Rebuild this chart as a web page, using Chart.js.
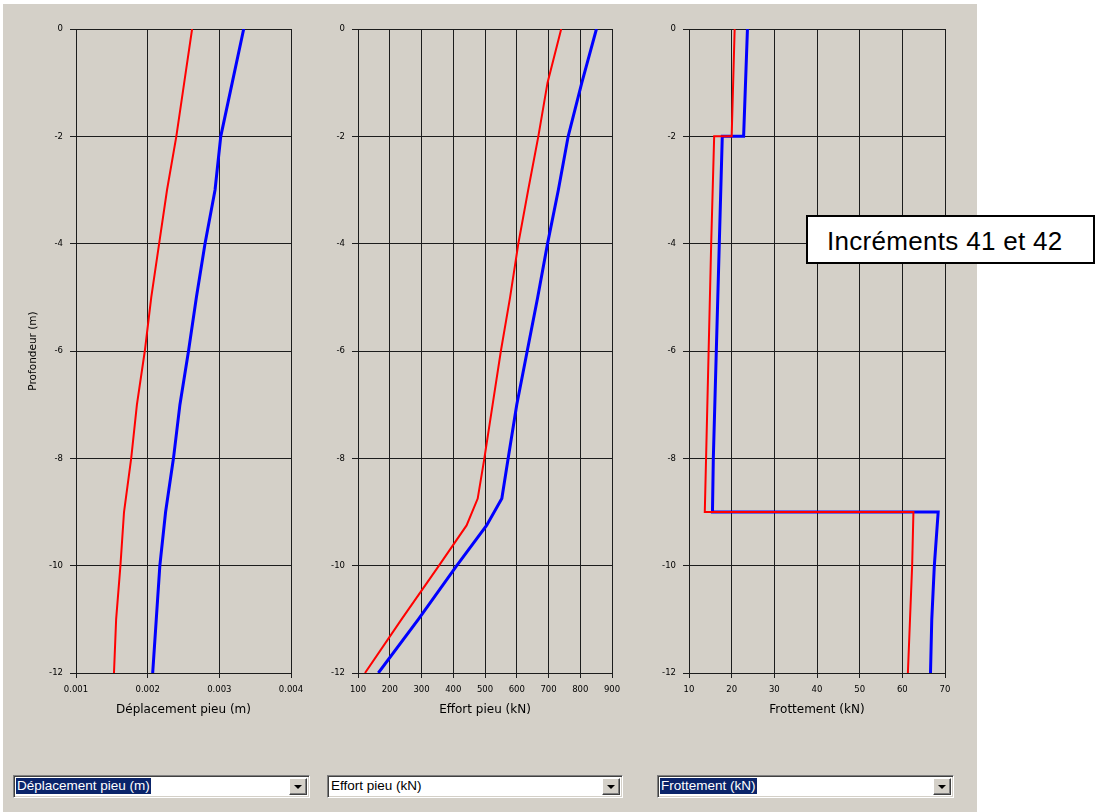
<!DOCTYPE html>
<html lang="fr">
<head>
<meta charset="UTF-8">
<title>Incréments 41 et 42</title>
<script src="https://cdn.jsdelivr.net/npm/chart.js@4.4.0/dist/chart.umd.min.js"></script>
<style>
    body {
        margin: 0;
        width: 1095px;
        height: 812px;
        background: #fff;
        position: relative;
        overflow: hidden;
        font-family: "Liberation Sans", Arial, sans-serif;
    }

    .fond {
        position: absolute;
        left: 3px;
        top: 4px;
        width: 974px;
        height: 808px;
        background: #d4d0c8;
    }

    canvas {
        position: absolute;
        top: 0;
    }

    .etiquette {
        position: absolute;
        left: 806px;
        top: 215px;
        width: 289px;
        height: 49px;
        box-sizing: border-box;
        border: 2px solid #000;
        background: #fff;
        font-size: 26px;
        letter-spacing: 0.3px;
        line-height: 49px;
        padding-left: 19px;
        color: #000;
        white-space: nowrap;
    }

    .combo {
        position: absolute;
        top: 775px;
        height: 23px;
        box-sizing: border-box;
        background: #fff;
        border-top: 1px solid #808080;
        border-left: 1px solid #808080;
        border-right: 1px solid #fff;
        border-bottom: 1px solid #fff;
        box-shadow: inset 1px 1px 0 #404040, inset -1px -1px 0 #d4d0c8;
    }

    .combo .texte {
        position: absolute;
        left: 2px;
        top: 2px;
        height: 16px;
        line-height: 16px;
        font-size: 13.5px;
        padding: 0 1px;
        color: #000;
    }

    .combo .sel {
        background: #0a246a;
        color: #fff;
    }

    .fleche {
        position: absolute;
        right: 2px;
        top: 2px;
        width: 18px;
        height: 17px;
        box-sizing: border-box;
        background: #d4d0c8;
        border-top: 1px solid #fff;
        border-left: 1px solid #fff;
        border-right: 1px solid #404040;
        border-bottom: 1px solid #404040;
        box-shadow: inset -1px -1px 0 #808080;
    }

    .fleche::after {
        content: '';
        position: absolute;
        left: 4px;
        top: 6px;
        border-left: 4px solid transparent;
        border-right: 4px solid transparent;
        border-top: 4px solid #000;
    }
</style>
</head>
<body>
<div class="fond"></div>

<canvas id="grapheDeplacement" width="320" height="740" style="left:0px"></canvas>
<canvas id="grapheEffort" width="320" height="740" style="left:310px"></canvas>
<canvas id="grapheFrottement" width="330" height="740" style="left:640px"></canvas>

<div class="etiquette">Incréments 41 et 42</div>

<div class="combo" style="left:13px;width:297px">
    <span class="texte sel">Déplacement pieu (m)</span>
    <div class="fleche"></div>
</div>
<div class="combo" style="left:327px;width:296px">
    <span class="texte">Effort pieu (kN)</span>
    <div class="fleche"></div>
</div>
<div class="combo" style="left:657px;width:297px">
    <span class="texte sel">Frottement (kN)</span>
    <div class="fleche"></div>
</div>

<script>
    // Profondeurs (m) et valeurs
    const profDeplacement = [0, -1, -2, -3, -4, -5, -6, -7, -8, -9, -10, -11, -12];
    const deplacementRouge = [0.00262, 0.00251, 0.00240, 0.00227, 0.00216, 0.00205, 0.00196, 0.00185, 0.00177, 0.00167, 0.00162, 0.00156, 0.00153];
    const deplacementBleu = [0.00334, 0.00318, 0.00302, 0.00294, 0.00280, 0.00268, 0.00257, 0.00245, 0.00236, 0.00225, 0.00217, 0.00212, 0.00207];

    const profEffort = [0, -1, -2, -3, -4, -5, -6, -7, -8, -8.75, -9.25, -10, -11, -12];
    const effortRouge = [740, 697, 668, 636, 605, 579, 550, 524, 498, 477, 442, 355, 237, 122];
    const effortBleu = [851, 805, 762, 731, 697, 666, 633, 600, 573, 553, 505, 411, 290, 164];

    const profFrottement = [0, -2, -2, -4, -6, -8, -9, -9, -10, -11, -12];
    const frottementRouge = [20.7, 20.0, 15.9, 15.2, 14.6, 14.0, 13.7, 62.6, 62.3, 61.8, 61.3];
    const frottementBleu = [23.7, 22.8, 17.8, 17.1, 16.4, 15.7, 15.5, 68.4, 67.5, 66.9, 66.6];

    // Graduations
    const ticksProfondeur = [0, -2, -4, -6, -8, -10, -12];
    const labelsProfondeur = ['0', '-2', '-4', '-6', '-8', '-10', '-12'];
    const ticksDeplacement = [0.001, 0.002, 0.003, 0.004];
    const labelsDeplacement = ['0.001', '0.002', '0.003', '0.004'];
    const ticksEffort = [100, 200, 300, 400, 500, 600, 700, 800, 900];
    const labelsEffort = ['100', '200', '300', '400', '500', '600', '700', '800', '900'];
    const ticksFrottement = [10, 20, 30, 40, 50, 60, 70];
    const labelsFrottement = ['10', '20', '30', '40', '50', '60', '70'];

    const couleurGrille = '#1c1c1c';

    function points(prof, valeurs) {
        return prof.map((p, i) => ({ x: valeurs[i], y: p }));
    }

    function creerGraphe(id, cfg) {
        const ctx = document.getElementById(id).getContext('2d');
        return new Chart(ctx, {
            type: 'line',
            data: {
                datasets: [{
                    data: points(cfg.prof, cfg.rouge),
                    borderColor: '#ff0000',
                    borderWidth: 2,
                    pointRadius: 0,
                    tension: 0
                }, {
                    data: points(cfg.prof, cfg.bleu),
                    borderColor: '#0000ff',
                    borderWidth: 3,
                    pointRadius: 0,
                    tension: 0
                }]
            },
            options: {
                responsive: false,
                animation: false,
                events: [],
                layout: { padding: { left: 0, top: 29, right: cfg.droite, bottom: 23 } },
                plugins: { legend: { display: false }, tooltip: { enabled: false } },
                scales: {
                    x: {
                        type: 'linear',
                        min: cfg.ticksX[0],
                        max: cfg.ticksX[cfg.ticksX.length - 1],
                        afterBuildTicks: s => { s.ticks = cfg.ticksX.map(v => ({ value: v })); },
                        afterFit: s => { s.height = 44; },
                        ticks: {
                            callback: (v, i) => cfg.labelsX[i],
                            font: { family: 'DejaVu Sans', size: 8.5 },
                            color: '#000',
                            padding: 7,
                            maxRotation: 0,
                            autoSkip: false
                        },
                        grid: { color: couleurGrille, tickLength: 5 },
                        border: { color: couleurGrille },
                        title: {
                            display: true,
                            text: cfg.titreX,
                            font: { family: 'DejaVu Sans', size: 12 },
                            color: '#000',
                            padding: 0
                        }
                    },
                    y: {
                        type: 'linear',
                        min: -12,
                        max: 0,
                        afterBuildTicks: s => { s.ticks = ticksProfondeur.map(v => ({ value: v })); },
                        afterFit: s => { s.width = cfg.largeurY; },
                        ticks: {
                            callback: (v, i) => labelsProfondeur[i],
                            font: { family: 'DejaVu Sans', size: 8.5 },
                            color: '#000',
                            padding: 7,
                            autoSkip: false
                        },
                        grid: { color: couleurGrille, tickLength: 6 },
                        border: { color: couleurGrille },
                        title: {
                            display: !!cfg.titreY,
                            text: cfg.titreY || '',
                            font: { family: 'DejaVu Sans', size: 10.5 },
                            color: '#000',
                            padding: { top: 27, bottom: 0 }
                        }
                    }
                }
            }
        });
    }

    creerGraphe('grapheDeplacement', {
        prof: profDeplacement, rouge: deplacementRouge, bleu: deplacementBleu,
        ticksX: ticksDeplacement, labelsX: labelsDeplacement,
        titreX: 'Déplacement pieu (m)', titreY: 'Profondeur (m)',
        largeurY: 76, droite: 29
    });

    creerGraphe('grapheEffort', {
        prof: profEffort, rouge: effortRouge, bleu: effortBleu,
        ticksX: ticksEffort, labelsX: labelsEffort,
        titreX: 'Effort pieu (kN)',
        largeurY: 48, droite: 18
    });

    creerGraphe('grapheFrottement', {
        prof: profFrottement, rouge: frottementRouge, bleu: frottementBleu,
        ticksX: ticksFrottement, labelsX: labelsFrottement,
        titreX: 'Frottement (kN)',
        largeurY: 49, droite: 25
    });
</script>
</body>
</html>
